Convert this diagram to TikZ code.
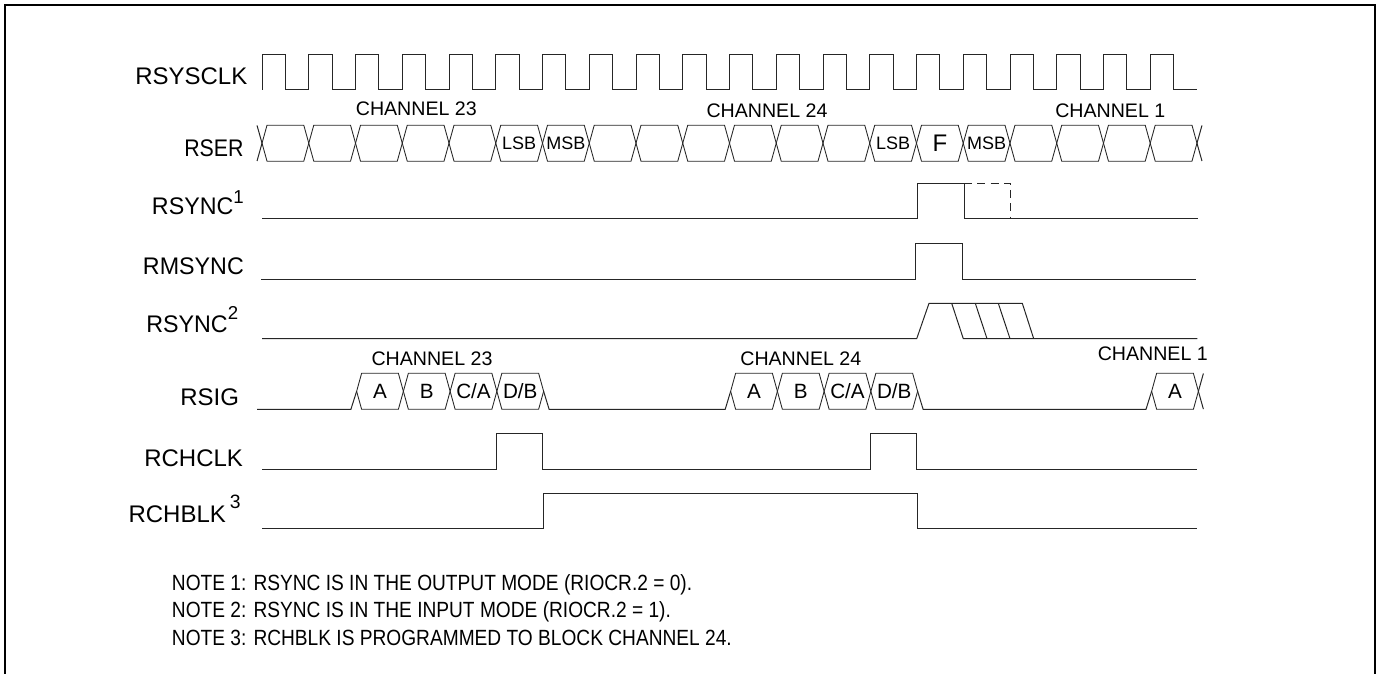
\documentclass[tikz,border=0pt]{standalone}
\usepackage{fontspec}
\setmainfont{Liberation Sans}
\newfontfamily\notefont[FakeStretch=0.87]{Liberation Sans}
\usetikzlibrary{positioning,shapes.symbols}

\begin{document}
\begin{tikzpicture}[x=.75pt, y=-.75pt, line join=miter]
    \tikzstyle{frameline}=[draw=black, line width=1.5pt]
    \tikzstyle{wave}=[draw=black!85, line width=.75pt]
    \tikzstyle{cell}=[signal, signal to=east and west, signal pointer angle=149, draw=black!85, line width=.65pt,
                      minimum width=35.06pt, minimum height=27pt, inner sep=0pt, outer sep=0pt]
    \tikzstyle{every label}=[font=\fontsize{15.5}{17}\selectfont, inner sep=0pt]
    \tikzstyle{sigtag}=[anchor=base west, inner sep=0pt, font=\fontsize{18}{20}\selectfont]
    \tikzstyle{chantag}=[inner sep=0pt, font=\fontsize{14.7}{16}\selectfont]
    \tikzstyle{notetag}=[anchor=base west, inner sep=0pt, font=\notefont\fontsize{16.5}{18}\selectfont]
    \tikzstyle{bittag}=[font=\fontsize{13.5}{15}\selectfont]

    \useasboundingbox (0,0) rectangle (1377,674);
    \draw[frameline] (4.5,674) |- (1375,5.5) -- (1375,674);

    % signal names
    \node[sigtag] (rsysclk) at (135,84.7)  {RSYSCLK};
    \node[sigtag] (rser)    at (184,156.7) {\scalebox{.89}[1]{RSER}};
    \node[sigtag] (rsynca)  at (151.7,214) {\scalebox{.97}[1]{RSYNC}\raisebox{8.25pt}{\fontsize{14}{15}\selectfont 1}};
    \node[sigtag] (rmsync)  at (142.7,274.3) {\scalebox{.97}[1]{RMSYNC}};
    \node[sigtag] (rsyncb)  at (146,332.6) {\scalebox{.97}[1]{RSYNC}\raisebox{10pt}{\fontsize{14}{15}\selectfont 2}};
    \node[sigtag] (rsig)    at (180,405)   {RSIG};
    \node[sigtag] (rchclk)  at (144,466)   {RCHCLK};
    \node[sigtag] (rchblk)  at (128.3,522.7) {RCHBLK\hspace{3pt}\raisebox{11pt}{\fontsize{14.5}{15}\selectfont 3}};

    % clock
    \draw[wave] (262,89.7) |- ++(23.4,-35.4)
        |- ++(23.4,35.4) |- ++(23.35,-35.4) |- ++(23.4,35.4) |- ++(23.35,-35.4) |- ++(23.4,35.4) |- ++(23.35,-35.4)
        |- ++(23.4,35.4) |- ++(23.35,-35.4) |- ++(23.4,35.4) |- ++(23.35,-35.4) |- ++(23.4,35.4) |- ++(23.35,-35.4)
        |- ++(23.4,35.4) |- ++(23.35,-35.4) |- ++(23.4,35.4) |- ++(23.35,-35.4) |- ++(23.4,35.4) |- ++(23.35,-35.4)
        |- ++(23.4,35.4) |- ++(23.35,-35.4) |- ++(23.4,35.4) |- ++(23.35,-35.4) |- ++(23.4,35.4) |- ++(23.35,-35.4)
        |- ++(23.4,35.4) |- ++(23.35,-35.4) |- ++(23.4,35.4) |- ++(23.35,-35.4) |- ++(23.4,35.4) |- ++(23.35,-35.4)
        |- ++(23.4,35.4) |- ++(23.35,-35.4) |- ++(23.4,35.4) |- ++(23.35,-35.4) |- ++(23.4,35.4) |- ++(23.35,-35.4)
        |- ++(23.4,35.4) |- ++(23.35,-35.4) |- ++(23.4,35.4);

    % serial data
    \node[cell] (ser1) at (285.4,143.2) {};
    \node[cell, right=0pt of ser1] (ser2) {};
    \node[cell, right=0pt of ser2] (ser3) {};
    \node[cell, right=0pt of ser3] (ser4) {};
    \node[cell, right=0pt of ser4] (ser5) {};
    \node[cell, right=0pt of ser5, label={[bittag]center:LSB}] (ser6) {};
    \node[cell, right=0pt of ser6, label={[bittag]center:MSB}] (ser7) {};
    \node[cell, right=0pt of ser7] (ser8) {};
    \node[cell, right=0pt of ser8] (ser9) {};
    \node[cell, right=0pt of ser9] (ser10) {};
    \node[cell, right=0pt of ser10] (ser11) {};
    \node[cell, right=0pt of ser11] (ser12) {};
    \node[cell, right=0pt of ser12] (ser13) {};
    \node[cell, right=0pt of ser13, label={[bittag]center:LSB}] (ser14) {};
    \node[cell, right=0pt of ser14, label={[font=\fontsize{18}{20}\selectfont]center:F}] (ser15) {};
    \node[cell, right=0pt of ser15, label={[bittag]center:MSB}] (ser16) {};
    \node[cell, right=0pt of ser16] (ser17) {};
    \node[cell, right=0pt of ser17] (ser18) {};
    \node[cell, right=0pt of ser18] (ser19) {};
    \node[cell, right=0pt of ser19] (ser20) {};
    \draw[wave] (ser1.west) -- ++(-5,-17.8);
    \draw[wave] (ser1.west) -- ++(-5,17.8);
    \draw[wave] (ser20.east) -- ++(5,-17.8);
    \draw[wave] (ser20.east) -- ++(5,17.8);

    \node[chantag] (chtop23) at (416.3,109) {CHANNEL 23};
    \node[chantag] (chtop24) at (767,111)   {CHANNEL 24};
    \node[chantag] (chtop1)  at (1110.3,110.7) {CHANNEL 1};

    % sync lines
    \draw[wave] (262,218.7) -| (917.3,183.3) -| (964,218.7) -- (1197.5,218.7);
    \draw[wave, dashed, dash pattern=on 6pt off 4pt] (964,183.3) -| (1010.7,218.7);
    \draw[wave] (261,279.3) -| (915.3,243.7) -| (962.3,279.3) -- (1196,279.3);
    \draw[wave] (262,338.7) -- (916.7,338.7) -- (929,303.3) -- (1022.3,303.3) -- (1033.7,338.7);
    \draw[wave] (951.7,303.3) -- (963.3,338.7) -- (1197.3,338.7);
    \draw[wave] (975.3,303.3) -- (987,338.7);
    \draw[wave] (998.3,303.3) -- (1010,338.7);

    % signaling bits
    \node[cell, label=center:A] (siga1) at (380,391.3) {};
    \node[cell, right=0pt of siga1, label=center:B] (sigb1) {};
    \node[cell, right=0pt of sigb1, label=center:C/A] (sigc1) {};
    \node[cell, right=0pt of sigc1, label=center:D/B] (sigd1) {};
    \node[cell, label=center:A] (siga2) at (754,391.3) {};
    \node[cell, right=0pt of siga2, label=center:B] (sigb2) {};
    \node[cell, right=0pt of sigb2, label=center:C/A] (sigc2) {};
    \node[cell, right=0pt of sigc2, label=center:D/B] (sigd2) {};
    \node[cell, label=center:A] (siga3) at (1175,391.3) {};
    \draw[wave] (257,409.3) -- (350.9,409.3) -- (siga1.west);
    \draw[wave] (sigd1.east) -- ++(5.5,18) -- (725.2,409.3) -- (siga2.west);
    \draw[wave] (sigd2.east) -- ++(5.5,18) -- (1146,409.3) -- (siga3.west);
    \draw[wave] (siga3.east) -- ++(5,-17.8);
    \draw[wave] (siga3.east) -- ++(5,17.8);

    \node[chantag] (chlow23) at (432,359)    {CHANNEL 23};
    \node[chantag] (chlow24) at (800.8,359)  {CHANNEL 24};
    \node[chantag] (chlow1)  at (1152.8,354) {CHANNEL 1};

    % channel clock and block
    \draw[wave] (262,469.3) -| (496,433.7) -| (542.7,469.3) -| (870,433.7) -| (916.7,469.3) -- (1197.3,469.3);
    \draw[wave] (262,528.5) -| (543,493.3) -| (917,528.5) -- (1197.3,528.5);

    % notes
    \node[notetag] (note1) at (171.7,590)   {NOTE 1: RSYNC IS IN THE OUTPUT MODE (RIOCR.2 = 0).};
    \node[notetag] (note2) at (171.7,617.3) {NOTE 2: RSYNC IS IN THE INPUT MODE (RIOCR.2 = 1).};
    \node[notetag] (note3) at (171.7,645)   {NOTE 3: RCHBLK IS PROGRAMMED TO BLOCK CHANNEL 24.};
\end{tikzpicture}
\end{document}
